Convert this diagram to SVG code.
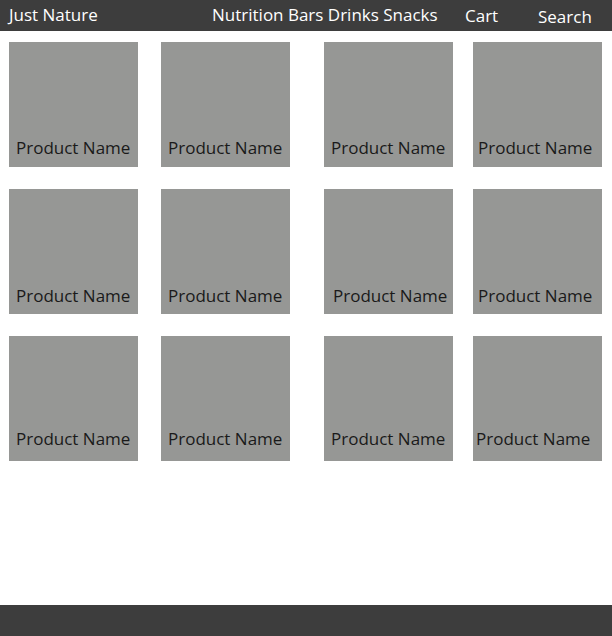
<svg xmlns="http://www.w3.org/2000/svg" width="612" height="636" viewBox="0 0 612 636">
<style>
.bar{fill:#3d3d3d}
.nav{font-family:"Open Sans",sans-serif;font-size:17px;fill:#ffffff}
.box{fill:#969795}
.lbl{font-family:"Open Sans",sans-serif;font-size:17px;fill:#1a1a1a}
</style>
<rect width="612" height="636" fill="#ffffff"/>
<g id="header">
<rect class="bar" x="0" y="0" width="612" height="31"/>
<text class="nav" x="9" y="21">Just Nature</text>
<text class="nav" x="212" y="21">Nutrition Bars Drinks Snacks</text>
<text class="nav" x="465" y="22">Cart</text>
<text class="nav" x="538" y="23">Search</text>
</g>
<g id="p1"><rect class="box" x="9" y="42" width="129" height="125"/><text class="lbl" x="16" y="154">Product Name</text></g>
<g id="p2"><rect class="box" x="161" y="42" width="129" height="125"/><text class="lbl" x="168" y="154">Product Name</text></g>
<g id="p3"><rect class="box" x="324" y="42" width="129" height="125"/><text class="lbl" x="331" y="154">Product Name</text></g>
<g id="p4"><rect class="box" x="473" y="42" width="129" height="125"/><text class="lbl" x="478" y="154">Product Name</text></g>
<g id="p5"><rect class="box" x="9" y="189" width="129" height="125"/><text class="lbl" x="16" y="302">Product Name</text></g>
<g id="p6"><rect class="box" x="161" y="189" width="129" height="125"/><text class="lbl" x="168" y="302">Product Name</text></g>
<g id="p7"><rect class="box" x="324" y="189" width="129" height="125"/><text class="lbl" x="333" y="302">Product Name</text></g>
<g id="p8"><rect class="box" x="473" y="189" width="129" height="125"/><text class="lbl" x="478" y="302">Product Name</text></g>
<g id="p9"><rect class="box" x="9" y="336" width="129" height="125"/><text class="lbl" x="16" y="445">Product Name</text></g>
<g id="p10"><rect class="box" x="161" y="336" width="129" height="125"/><text class="lbl" x="168" y="445">Product Name</text></g>
<g id="p11"><rect class="box" x="324" y="336" width="129" height="125"/><text class="lbl" x="331" y="445">Product Name</text></g>
<g id="p12"><rect class="box" x="473" y="336" width="129" height="125"/><text class="lbl" x="476" y="445">Product Name</text></g>
<g id="footer"><rect class="bar" x="0" y="605" width="612" height="31"/></g>
<g id="connectors"></g>
</svg>
